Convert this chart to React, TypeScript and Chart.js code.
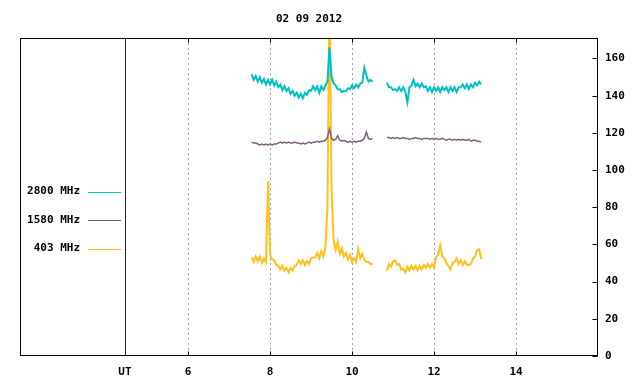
import React, { useEffect, useRef } from "react";
import { Chart, registerables } from "chart.js";

Chart.register(...registerables);

const TITLE = "02 09 2012";
const X_TICKS = [4.46, 6, 8, 10, 12, 14];
const X_TICK_LABELS = ["UT", "6", "8", "10", "12", "14"];
const Y_TICKS = [0, 20, 40, 60, 80, 100, 120, 140, 160];
const SERIES_LABELS = ["2800 MHz", "1580 MHz", "403 MHz"];
const SERIES_COLORS = ["#00c0c0", "#806080", "#ffc020"];
const SERIES_WIDTHS = [2, 1.5, 2];

const TIMES_1 = [
  7.55, 7.6, 7.65, 7.7, 7.75, 7.8, 7.85, 7.9, 7.95, 8,
  8.05, 8.1, 8.15, 8.2, 8.25, 8.3, 8.35, 8.4, 8.45, 8.5,
  8.55, 8.6, 8.65, 8.7, 8.75, 8.8, 8.85, 8.9, 8.95, 9,
  9.05, 9.1, 9.15, 9.2, 9.25, 9.3, 9.35, 9.4, 9.45, 9.5,
  9.55, 9.6, 9.65, 9.7, 9.75, 9.8, 9.85, 9.9, 9.95, 10,
  10.05, 10.1, 10.15, 10.2, 10.25, 10.3, 10.35, 10.4, 10.45, 10.5,
];
const GAP_TIME = 10.68;
const TIMES_2 = [
  10.85, 10.9, 10.95, 11, 11.05, 11.1, 11.15, 11.2, 11.25, 11.3,
  11.35, 11.4, 11.45, 11.5, 11.55, 11.6, 11.65, 11.7, 11.75, 11.8,
  11.85, 11.9, 11.95, 12, 12.05, 12.1, 12.15, 12.2, 12.25, 12.3,
  12.35, 12.4, 12.45, 12.5, 12.55, 12.6, 12.65, 12.7, 12.75, 12.8,
  12.85, 12.9, 12.95, 13, 13.05, 13.1, 13.15,
];

const MHZ2800_1 = [
  151.5, 148.5, 150.5, 147.5, 150, 147, 149, 146, 148.5, 146,
  148.5, 145.5, 147.5, 144.5, 146, 143, 145, 142.5, 144, 141,
  142.5, 140, 141.5, 139, 141, 138.5, 141.5, 140.5, 143, 142.5,
  145, 143, 145, 141.5, 145, 143, 145.5, 147.5, 166, 150,
  146.5, 145.5, 143.5, 143.5, 142, 142.5, 142.5, 144, 143.5, 145.5,
  144, 146, 144.5, 146.5, 147, 155, 151, 147.5, 148.5, 147.5,
];
const MHZ2800_2 = [
  147, 144.5, 144.5, 143, 143.5, 142.5, 144.5, 142.5, 144.5, 142,
  136.5, 144.5, 145.5, 148.5, 145, 146.5, 144.5, 146.5, 144.5, 145,
  142.5, 144.5, 142, 144.5, 142.5, 144.5, 142, 144.5, 143, 144.5,
  142, 144.5, 142.5, 144.5, 142, 144.5, 144.5, 146, 144, 146,
  143.5, 146, 144.5, 147, 145.5, 147.5, 146,
];
const MHZ1580_1 = [
  115, 114.5, 114.5, 114, 113.5, 114, 113.5, 114, 113.5, 114,
  113.5, 114, 114, 114.5, 115, 114.5, 115, 114.5, 115, 114.5,
  114.5, 115, 114.5, 114.5, 114, 114.5, 114, 114.5, 115, 114.5,
  115, 115, 115.5, 115, 115.5, 115.5, 116, 117.5, 122, 117,
  116, 116.5, 118.5, 116, 115.5, 116, 115.5, 115, 115.5, 115,
  115.5, 115, 115.5, 115.5, 116, 117, 120.5, 117, 116.5, 117,
];
const MHZ1580_2 = [
  117.5, 117.5, 117, 117.5, 117, 117.5, 117, 117, 117.5, 117,
  117, 116.5, 117, 117, 117.5, 117, 117, 116.5, 117, 117,
  117, 116.5, 117, 116.5, 117, 116.5, 116.5, 117, 116.5, 116,
  116.5, 116.5, 116, 116.5, 116, 116.5, 116, 116.5, 116, 116,
  116.5, 115.5, 116, 116, 115.5, 115.5, 115,
];
const MHZ403_1 = [
  53, 50.5, 53.5, 51, 53.5, 50, 52.5, 50.5, 94, 54.5,
  52, 51.5, 49, 48.5, 46.5, 48.5, 46, 47.5, 45, 47.5,
  46, 48.5, 49, 51.5, 49.5, 51.5, 49, 51, 49.5, 52.5,
  53, 53, 55.5, 52.5, 56.5, 53.5, 58.5, 80, 200, 90,
  62, 57, 61.5, 55, 58, 53.5, 55.5, 52, 54.5, 50.5,
  52.5, 50.5, 57.5, 52.5, 55, 51.5, 50.5, 50.5, 49.5, 49.5,
];
const MHZ403_2 = [
  46, 49.5, 48, 51, 51.5, 49, 49.5, 46.5, 47, 45,
  48, 46, 48.5, 46.5, 48.5, 46, 48.5, 46.5, 49, 47.5,
  49.5, 47.5, 49.5, 47.5, 53.5, 54.5, 59.5, 53.5, 52.5, 50,
  48.5, 46.5, 50, 50.5, 52.5, 49.5, 51.5, 49, 51, 49,
  49, 49.5, 52.5, 53.5, 57, 57.5, 52,
];

const FONT = "bold 11px 'DejaVu Sans Mono', monospace";

function buildSeries(v1: number[], v2: number[]) {
  const pts: { x: number; y: number | null }[] = [];
  TIMES_1.forEach((t, i) => pts.push({ x: t, y: v1[i] }));
  pts.push({ x: GAP_TIME, y: null });
  TIMES_2.forEach((t, i) => pts.push({ x: t, y: v2[i] }));
  return pts;
}

const framePlugin = {
  id: "framePlugin",
  beforeDatasetsDraw(chart: any) {
    const { ctx, chartArea } = chart;
    const xs = chart.scales.x;
    ctx.save();
    X_TICKS.forEach((v, i) => {
      const px = Math.round(xs.getPixelForValue(v)) + 0.5;
      ctx.beginPath();
      if (X_TICK_LABELS[i] === "UT") {
        ctx.setLineDash([]);
        ctx.strokeStyle = "#800000";
      } else {
        ctx.setLineDash([2, 3]);
        ctx.strokeStyle = "#a0a0a0";
      }
      ctx.lineWidth = 1;
      ctx.moveTo(px, chartArea.top);
      ctx.lineTo(px, chartArea.bottom);
      ctx.stroke();
    });
    ctx.restore();
  },
  afterDatasetsDraw(chart: any) {
    const { ctx, chartArea } = chart;
    const xs = chart.scales.x;
    const ys = chart.scales.y;
    const l = Math.round(chartArea.left) + 0.5;
    const r = Math.round(chartArea.right) - 0.5;
    const t = Math.round(chartArea.top) + 0.5;
    const b = Math.round(chartArea.bottom) - 0.5;
    ctx.save();
    ctx.setLineDash([]);
    ctx.strokeStyle = "#000";
    ctx.lineWidth = 1;
    ctx.strokeRect(l, t, r - l, b - t);
    X_TICKS.forEach((v, i) => {
      if (X_TICK_LABELS[i] === "UT") return;
      const px = Math.round(xs.getPixelForValue(v)) + 0.5;
      ctx.beginPath();
      ctx.moveTo(px, t);
      ctx.lineTo(px, t + 4);
      ctx.moveTo(px, b);
      ctx.lineTo(px, b - 4);
      ctx.stroke();
    });
    Y_TICKS.forEach((v) => {
      const py = Math.round(ys.getPixelForValue(v)) + 0.5;
      ctx.beginPath();
      ctx.moveTo(r, py);
      ctx.lineTo(r - 5, py);
      ctx.stroke();
    });
    ctx.font = FONT;
    ctx.fillStyle = "#000";
    ctx.textBaseline = "middle";
    ctx.textAlign = "right";
    chart.data.datasets.forEach((ds: any, i: number) => {
      const y = 191.5 + i * 28.5;
      ctx.fillText(ds.label, 80, y);
      ctx.beginPath();
      ctx.strokeStyle = ds.borderColor;
      ctx.lineWidth = 1;
      ctx.moveTo(88, Math.round(y) + 0.5);
      ctx.lineTo(121, Math.round(y) + 0.5);
      ctx.stroke();
    });
    ctx.textAlign = "center";
    ctx.fillStyle = "#000";
    ctx.fillText(TITLE, (chartArea.left + chartArea.right) / 2, 19);
    ctx.restore();
  },
};

export default function App() {
  const ref = useRef<HTMLCanvasElement | null>(null);
  useEffect(() => {
    if (!ref.current) return;
    const series = [
      buildSeries(MHZ2800_1, MHZ2800_2),
      buildSeries(MHZ1580_1, MHZ1580_2),
      buildSeries(MHZ403_1, MHZ403_2),
    ];
    const tickFont = { family: "'DejaVu Sans Mono', monospace", size: 11, weight: "bold" as const };
    const chart = new Chart(ref.current, {
      type: "line",
      data: {
        datasets: series.map((d, i) => ({
          label: SERIES_LABELS[i],
          data: d,
          borderColor: SERIES_COLORS[i],
          backgroundColor: SERIES_COLORS[i],
          borderWidth: SERIES_WIDTHS[i],
          pointRadius: 0,
          tension: 0,
          spanGaps: false,
        })),
      },
      options: {
        animation: false,
        responsive: false,
        events: [],
        layout: { padding: { left: 20, top: 38, right: 0, bottom: 0 } },
        plugins: {
          legend: { display: false },
          title: { display: false },
          tooltip: { enabled: false },
        },
        scales: {
          x: {
            type: "linear",
            position: "bottom",
            min: 1.9,
            max: 16,
            afterBuildTicks: (s: any) => {
              s.ticks = X_TICKS.map((v) => ({ value: v }));
            },
            afterFit: (s: any) => {
              s.height = 28;
            },
            grid: { display: false, drawTicks: false },
            border: { display: false },
            ticks: {
              autoSkip: false,
              maxRotation: 0,
              padding: 10,
              color: "#000",
              font: tickFont,
              callback: (_v: any, i: number) => X_TICK_LABELS[i],
            },
          },
          y: {
            type: "linear",
            position: "right",
            min: 0,
            max: 171,
            afterBuildTicks: (s: any) => {
              s.ticks = Y_TICKS.map((v) => ({ value: v }));
            },
            afterFit: (s: any) => {
              s.width = 42;
            },
            grid: { display: false, drawTicks: false },
            border: { display: false },
            ticks: {
              padding: 7,
              color: "#000",
              font: tickFont,
              callback: (v: any) => String(v),
            },
          },
        },
      },
      plugins: [framePlugin],
    } as any);
    return () => chart.destroy();
  }, []);
  return (
    <div style={{ position: "absolute", left: 0, top: 0, width: 640, height: 384, background: "#fff" }}>
      <canvas ref={ref} width={640} height={384} style={{ display: "block", width: 640, height: 384 }} />
    </div>
  );
}
